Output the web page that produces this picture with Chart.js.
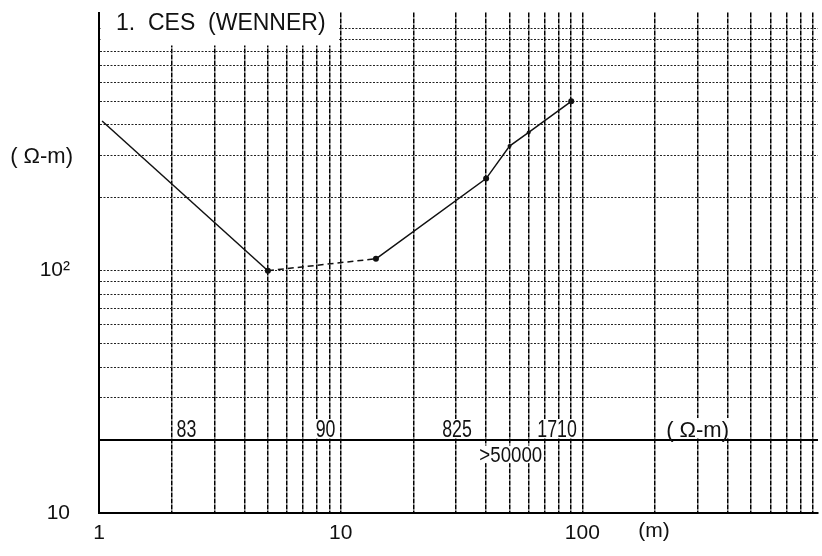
<!DOCTYPE html>
<html>
<head>
<meta charset="utf-8">
<script src="https://cdn.jsdelivr.net/npm/chart.js@4.4.0/dist/chart.umd.min.js"></script>
<style>
  html, body { margin: 0; padding: 0; background: #fff; }
</style>
</head>
<body>
<canvas id="sounding" width="822" height="556"></canvas>
<script>
// electrode spacing (m) and apparent resistivity (ohm-m)
const spacing = [1.03, 5, 14, 40, 50, 60, 90];
const resistivity = [415, 100, 112, 240, 327, 372, 500];
const pointSizes = [0, 3, 3, 3, 2, 2, 3];

// log grid
const xGridValues = [1, 2, 3, 4, 5, 6, 7, 8, 9, 10, 20, 30, 40, 50, 60, 70, 80, 90, 100, 200, 300, 400, 500, 600, 700, 800, 900];
const yGridValues = [10, 20, 30, 40, 50, 60, 70, 80, 90, 100, 200, 300, 400, 500, 600, 700, 800, 900, 1000];
const xLabelValues = [1, 10, 100];
const xLabelTexts = ["1", "10", "100"];
const yLabelValues = [10, 100];
const yLabelTexts = ["10", "10²"];

// interpreted layers (ohm-m) and where they sit along the spacing axis
const layerTexts = ["83", "90", "825", "1710"];
const layerAt = [2.3, 8.66, 30.3, 78.6];
const basementText = ">50000";
const basementAt = 50.6;

const titleText = "1.  CES  (WENNER)";
const FONT = '"Liberation Sans", Arial, sans-serif';
const INK = "#111";

const labelFor = (values, texts, v) => {
  const i = values.indexOf(v);
  return i >= 0 ? texts[i] : "";
};

const annotations = {
  id: "annotations",
  afterDraw(chart) {
    const { ctx, chartArea, scales: { x, y } } = chart;
    ctx.save();

    // title box over the upper left corner of the grid
    const boxRight = x.getPixelForValue(10) - 1.5;
    const boxBottom = y.getPixelForValue(850);
    ctx.fillStyle = "#fff";
    ctx.fillRect(chartArea.left + 1.5, 0, boxRight - chartArea.left - 1.5, boxBottom);
    ctx.fillStyle = INK;
    ctx.font = "23px " + FONT;
    ctx.textBaseline = "alphabetic";
    ctx.textAlign = "left";
    ctx.fillText(titleText, chartArea.left + 17, 30);

    // unit labels
    ctx.font = "22px " + FONT;
    ctx.textAlign = "right";
    ctx.textBaseline = "middle";
    ctx.fillText("( Ω-m)", chartArea.left - 26, y.getPixelForValue(295));
    ctx.textAlign = "center";
    ctx.textBaseline = "top";
    ctx.font = "21px " + FONT;
    ctx.fillText("(m)", x.getPixelForValue(198), chartArea.bottom + 8);

    // layer band
    const line20 = y.getPixelForValue(20);
    const narrow = (text, px, base, size, sx) => {
      ctx.save();
      ctx.font = size + "px " + FONT;
      const w = ctx.measureText(text).width * sx;
      ctx.fillStyle = "#fff";
      ctx.fillRect(px - w / 2 - 1, base - size * 0.75, w + 2, size * 0.8);
      ctx.translate(px, base);
      ctx.scale(sx, 1);
      ctx.fillStyle = INK;
      ctx.textAlign = "center";
      ctx.textBaseline = "alphabetic";
      ctx.fillText(text, 0, 0);
      ctx.restore();
    };
    layerTexts.forEach((t, i) => narrow(t, x.getPixelForValue(layerAt[i]), line20 - 3, 24, 0.74));
    narrow(basementText, x.getPixelForValue(basementAt), line20 + 22, 22, 0.85);

    ctx.font = "22px " + FONT;
    const unit = "( Ω-m)";
    const uw = ctx.measureText(unit).width;
    const ux = x.getPixelForValue(300);
    ctx.fillStyle = "#fff";
    ctx.fillRect(ux - uw / 2 - 1, line20 - 22, uw + 2, 20);
    ctx.fillStyle = INK;
    ctx.textAlign = "center";
    ctx.textBaseline = "alphabetic";
    ctx.fillText(unit, ux, line20 - 3);

    ctx.restore();
  }
};

new Chart(document.getElementById("sounding"), {
  type: "scatter",
  data: {
    datasets: [{
      data: spacing.map((s, i) => ({ x: s, y: resistivity[i] })),
      showLine: true,
      borderColor: INK,
      borderWidth: 1.5,
      pointRadius: pointSizes,
      pointBackgroundColor: INK,
      pointBorderWidth: 0,
      segment: {
        borderDash: (c) => (c.p0DataIndex === 1 ? [6, 4] : undefined)
      }
    }]
  },
  options: {
    responsive: false,
    animation: false,
    devicePixelRatio: 1,
    layout: { padding: { top: 7, right: 0, left: 0, bottom: 0 } },
    plugins: { legend: { display: false }, tooltip: { enabled: false } },
    scales: {
      x: {
        type: "logarithmic",
        min: 1,
        max: 945,
        afterBuildTicks: (s) => { s.ticks = xGridValues.map((v) => ({ value: v })); },
        afterFit: (s) => { s.height = 43; },
        ticks: {
          autoSkip: false,
          maxRotation: 0,
          padding: 0,
          color: INK,
          font: { family: FONT, size: 21 },
          callback: (v) => labelFor(xLabelValues, xLabelTexts, v)
        },
        grid: { drawTicks: true, tickLength: 8, tickColor: "rgba(0,0,0,0)", color: "#000", lineWidth: 1.5 },
        border: { display: true, color: "#000", width: 2, dash: [5, 1] }
      },
      y: {
        type: "logarithmic",
        min: 10,
        max: 1162,
        afterBuildTicks: (s) => { s.ticks = yGridValues.map((v) => ({ value: v })); },
        afterFit: (s) => { s.width = 99; },
        ticks: {
          autoSkip: false,
          padding: 0,
          color: INK,
          font: { family: FONT, size: 21 },
          callback: (v) => labelFor(yLabelValues, yLabelTexts, v)
        },
        grid: {
          drawTicks: true,
          tickLength: 29,
          tickColor: "rgba(0,0,0,0)",
          color: (c) => (c.tick && c.tick.value === 20 ? "#000" : "#222"),
          lineWidth: (c) => (c.tick && c.tick.value === 20 ? 2 : 1)
        },
        border: {
          display: true, color: "#000", width: 2,
          dash: (c) => (c.tick && c.tick.value === 20 ? [] : [2, 1.5])
        }
      }
    }
  },
  plugins: [annotations]
});
</script>
</body>
</html>
